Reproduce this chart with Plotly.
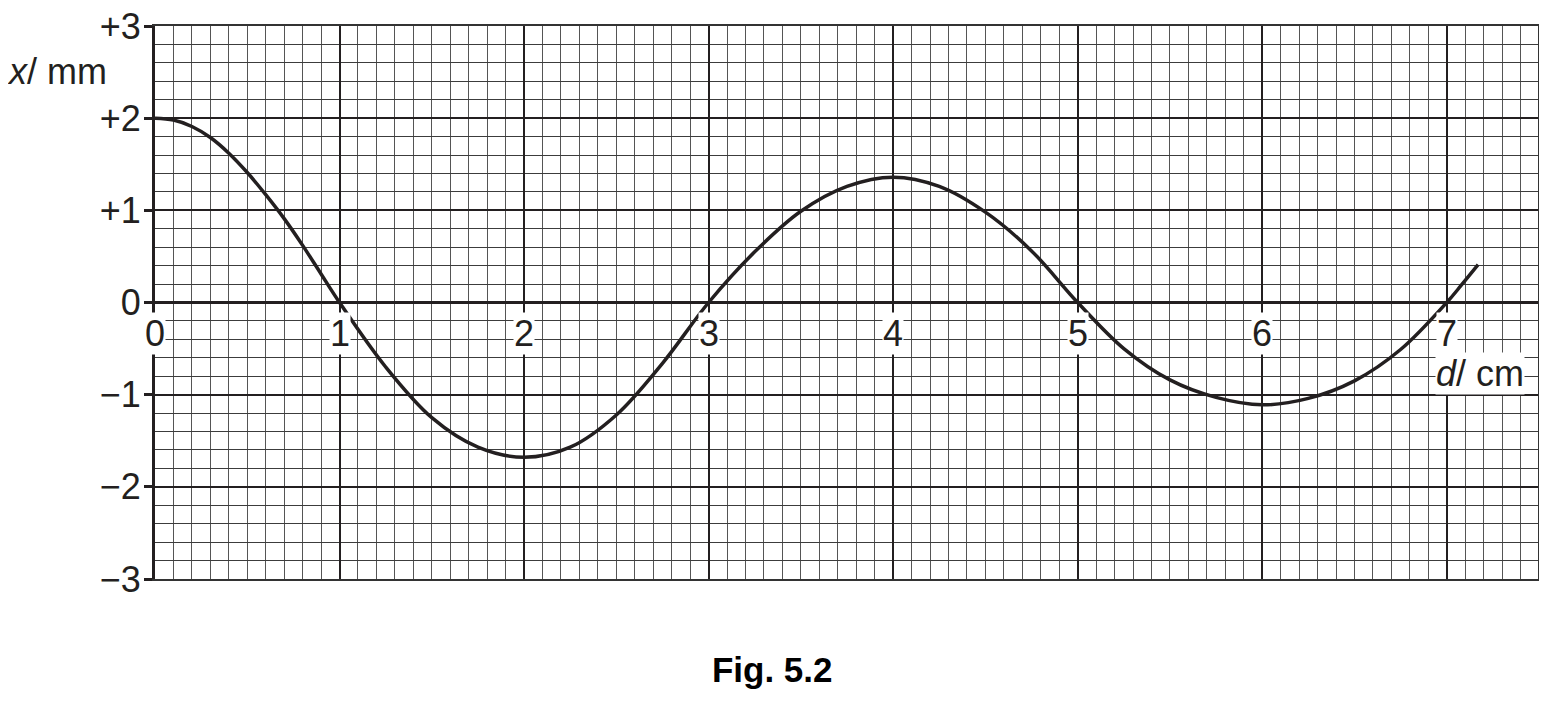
import plotly.graph_objects as go

# distance d / cm and displacement x / mm
d_cm = [0.0, 0.1, 0.2, 0.3, 0.4, 0.5, 0.6, 0.7, 0.8, 0.9, 1.0,
        1.25, 1.5, 1.75, 2.0, 2.25, 2.5, 2.75, 3.0,
        3.25, 3.5, 3.75, 4.0, 4.25, 4.5, 4.75, 5.0,
        5.25, 5.5, 5.75, 6.0, 6.25, 6.5, 6.75, 7.0, 7.08, 7.17]
x_mm = [2.00, 1.98, 1.91, 1.79, 1.62, 1.41, 1.17, 0.91, 0.62, 0.31, 0.00,
        -0.70, -1.25, -1.57, -1.68, -1.57, -1.22, -0.66, 0.00,
        0.55, 0.99, 1.26, 1.36, 1.26, 0.98, 0.56, 0.00,
        -0.50, -0.84, -1.03, -1.11, -1.04, -0.85, -0.51, 0.00, 0.19, 0.41]

x_tick_vals = [0, 1, 2, 3, 4, 5, 6, 7]
x_tick_text = ["0", "1", "2", "3", "4", "5", "6", "7"]
y_tick_vals = [3, 2, 1, 0, -1, -2, -3]
y_tick_text = ["+3", "+2", "+1", "0", "\u22121", "\u22122", "\u22123"]

FONT = "Liberation Sans, Arial, Helvetica, sans-serif"
FS = 36
INK = "#231f20"

fig = go.Figure()
fig.add_trace(go.Scatter(
    x=d_cm, y=x_mm, mode="lines",
    line=dict(color=INK, width=3.5, shape="spline", smoothing=1.0),
    hoverinfo="skip", showlegend=False,
))

fig.update_xaxes(
    range=[0, 7.5], tickmode="linear", tick0=0, dtick=1,
    showticklabels=False, ticks="", automargin=False,
    showgrid=True, gridcolor=INK, gridwidth=2,
    minor=dict(tickmode="linear", tick0=0, dtick=0.1, showgrid=True,
               gridcolor="#555555", gridwidth=1),
    zeroline=False,
    showline=True, mirror=True, linecolor="#333333", linewidth=2,
    fixedrange=True,
)
fig.update_yaxes(
    range=[-3, 3], tickmode="array", tickvals=y_tick_vals, ticktext=y_tick_text,
    ticks="outside", ticklen=8, tickwidth=3, tickcolor=INK,
    ticklabelstandoff=-4, ticklabeloverflow="allow", automargin=False,
    tickfont=dict(family=FONT, size=FS, color=INK),
    showgrid=True, gridcolor=INK, gridwidth=2,
    minor=dict(tickmode="linear", tick0=0, dtick=0.2, showgrid=True,
               gridcolor="#3c3c3c", gridwidth=1),
    zeroline=True, zerolinecolor=INK, zerolinewidth=3,
    showline=True, linecolor=INK, linewidth=3,
    fixedrange=True,
)

# right border of the grid
fig.add_shape(type="line", xref="x", yref="y", x0=7.5, x1=7.5, y0=-3, y1=3,
              line=dict(color="#333333", width=2), layer="above")

# x tick labels with white boxes over the grid
for v, t in zip(x_tick_vals, x_tick_text):
    fig.add_annotation(x=v, y=0, xref="x", yref="y", text=t, showarrow=False,
                       xanchor="center", yanchor="middle", yshift=-31,
                       font=dict(family=FONT, size=FS, color=INK),
                       bgcolor="white", borderpad=0)

# axis labels
fig.add_annotation(x=0, y=2.51, xref="x", yref="y", text="<i>x</i>/ mm",
                   showarrow=False, xanchor="right", yanchor="middle", xshift=-46,
                   font=dict(family=FONT, size=FS, color=INK))
fig.add_annotation(x=7.18, y=-0.77, xref="x", yref="y", text="<i>d</i>/ cm",
                   showarrow=False, xanchor="center", yanchor="middle",
                   font=dict(family=FONT, size=FS, color=INK),
                   bgcolor="white", borderpad=0)

fig.update_layout(
    width=1547, height=707,
    margin=dict(l=147, r=16, t=18, b=136),
    paper_bgcolor="white", plot_bgcolor="white",
    title=dict(text="<b>Fig. 5.2</b>", x=0.494, xanchor="center",
               y=0.064, yanchor="middle", automargin=False,
               font=dict(family=FONT, size=35, color="#000000")),
    showlegend=False,
)

fig.write_html("out.html")
